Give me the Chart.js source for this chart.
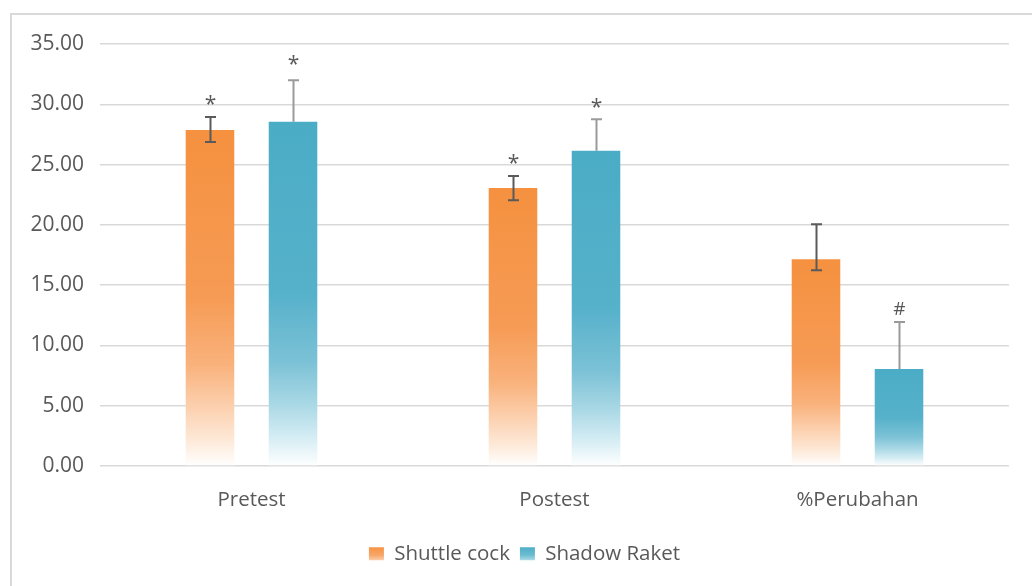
<!DOCTYPE html>
<html>
<head>
<meta charset="utf-8">
<script src="https://cdn.jsdelivr.net/npm/chart.js@4.4.1/dist/chart.umd.min.js"></script>
<style>
  html, body { margin: 0; padding: 0; background: #ffffff; }
  #wrap { position: relative; width: 1032px; height: 586px; overflow: hidden; }
  #frame { position: absolute; left: 10px; top: 13px; width: 1100px; height: 700px;
           border-left: 2px solid #d9d9d9; border-top: 2px solid #d9d9d9; box-sizing: border-box; }
  canvas { position: absolute; left: 0; top: 0; }
</style>
</head>
<body>
<div id="wrap">
  <div id="frame"></div>
  <canvas id="chart" width="1032" height="586"></canvas>
</div>
<script>
// Group means, error bars and significance marks
const categories = ['Pretest', 'Postest', '%Perubahan'];
const shuttleCock = [27.87, 23.05, 17.15];
const shadowRaket = [28.55, 26.15, 8.05];
const shuttlePlus = [1.07, 1.0, 2.9];
const shuttleMinus = [1.0, 1.0, 0.92];
const shadowPlus = [3.45, 2.6, 3.9];
const shuttleMarks = ['*', '*', ''];
const shadowMarks = ['*', '*', '#'];
const yTicks = [0, 5, 10, 15, 20, 25, 30, 35];

const TEXT = '#595959';
const FONT = "'Open Sans', 'Noto Sans', sans-serif";
const ORANGE = '#F5913F';
const BLUE = '#4BACC6';

const orangeStops = [[0, ORANGE], [0.5, '#F69B55'], [0.7, '#F9B27C'], [0.82, '#FCCFAD'], [0.92, '#FDE8D6'], [1, '#FFFFFF']];
const blueStops = [[0, BLUE], [0.5, '#56B1CA'], [0.7, '#7CC2D6'], [0.82, '#A9D8E5'], [0.92, '#D6EDF4'], [1, '#FFFFFF']];

function makeGradient(c, top, base, stops) {
  const g = c.createLinearGradient(0, top, 0, base);
  stops.forEach(s => g.addColorStop(s[0], s[1]));
  return g;
}

// Vertical fade from the bar colour at the top to white at the base
function barFill(ctx, stops) {
  if (ctx.type !== 'data' || ctx.dataIndex === undefined) return stops[0][1];
  const chart = ctx.chart;
  const y = chart.scales.y;
  if (!y || y.top === undefined || !chart.chartArea) return stops[0][1];
  const v = chart.data.datasets[ctx.datasetIndex].data[ctx.dataIndex];
  const top = y.getPixelForValue(v);
  const base = y.getPixelForValue(0);
  if (!isFinite(top) || !isFinite(base) || top === base) return stops[0][1];
  return makeGradient(chart.ctx, top, base, stops);
}

// Error bars and significance marks drawn over the bars
const errorBars = {
  id: 'errorBars',
  afterDatasetsDraw(chart) {
    const c = chart.ctx;
    const y = chart.scales.y;
    const specs = [
      { plus: shuttlePlus, minus: shuttleMinus, marks: shuttleMarks, color: '#5a5a5a' },
      { plus: shadowPlus, minus: null, marks: shadowMarks, color: '#9a9a9a' }
    ];
    specs.forEach((s, di) => {
      const meta = chart.getDatasetMeta(di);
      const vals = chart.data.datasets[di].data;
      meta.data.forEach((bar, i) => {
        const x = Math.round(bar.x) + 0.5;
        const hi = y.getPixelForValue(vals[i] + s.plus[i]);
        const lo = s.minus ? y.getPixelForValue(vals[i] - s.minus[i]) : y.getPixelForValue(vals[i]);
        c.save();
        c.strokeStyle = s.color;
        c.lineWidth = 2;
        c.beginPath();
        c.moveTo(x, hi); c.lineTo(x, lo);
        c.moveTo(x - 5.5, hi); c.lineTo(x + 5.5, hi);
        if (s.minus) { c.moveTo(x - 5.5, lo); c.lineTo(x + 5.5, lo); }
        c.stroke();
        if (s.marks[i]) {
          c.fillStyle = TEXT;
          c.textAlign = 'center';
          c.textBaseline = 'alphabetic';
          const isHash = s.marks[i] === '#';
          c.font = (isHash ? '19px ' : '21px ') + FONT;
          const off = isHash ? 7 : (di === 1 && i === 0 ? 9 : (di === 1 ? 5 : 6));
          c.fillText(s.marks[i], x, hi - off);
        }
        c.restore();
      });
    });
  }
};

// Nudge the legend row to the right of the default centred position
const legendShift = {
  id: 'legendShift',
  afterLayout(chart) {
    const lg = chart.legend;
    if (lg) { lg.left += 20; lg.right += 20; }
  }
};

new Chart(document.getElementById('chart'), {
  type: 'bar',
  data: {
    labels: categories,
    datasets: [
      { label: 'Shuttle cock', data: shuttleCock, borderWidth: 0,
        backgroundColor: ctx => barFill(ctx, orangeStops) },
      { label: 'Shadow Raket', data: shadowRaket, borderWidth: 0,
        backgroundColor: ctx => barFill(ctx, blueStops) }
    ]
  },
  options: {
    responsive: false,
    animation: false,
    devicePixelRatio: 1,
    categoryPercentage: 0.548,
    barPercentage: 0.585,
    layout: { padding: { top: 44, right: 23, bottom: 12, left: 0 } },
    plugins: {
      tooltip: { enabled: false },
      legend: {
        position: 'bottom',
        labels: {
          boxWidth: 15, boxHeight: 13, padding: 10,
          color: TEXT, font: { family: FONT, size: 20.5 },
          generateLabels(chart) {
            const c = chart.ctx;
            const fills = [
              makeGradient(c, 546, 561, [[0, ORANGE], [0.6, '#F7A566'], [1, '#FBD3B3']]),
              makeGradient(c, 546, 561, [[0, BLUE], [0.6, '#6CBBD0'], [1, '#B5DEEA']])
            ];
            return chart.data.datasets.map((ds, i) => ({
              text: ds.label, fillStyle: fills[i], strokeStyle: 'rgba(0,0,0,0)',
              lineWidth: 0, hidden: false, datasetIndex: i, fontColor: TEXT
            }));
          }
        }
      }
    },
    scales: {
      x: {
        grid: { display: false },
        border: { display: false },
        ticks: { color: TEXT, font: { family: FONT, size: 20.5 }, padding: 14 },
        afterFit(scale) { scale.height = 67.5; }
      },
      y: {
        min: 0, max: 35,
        afterBuildTicks(scale) { scale.ticks = yTicks.map(v => ({ value: v })); },
        grid: { color: '#d9d9d9', lineWidth: 1.5, drawTicks: false },
        border: { display: false },
        ticks: {
          color: TEXT, font: { family: FONT, size: 21 }, padding: 16,
          callback: v => Number(v).toFixed(2)
        },
        afterFit(scale) { scale.width = 100; }
      }
    }
  },
  plugins: [errorBars, legendShift]
});
</script>
</body>
</html>
